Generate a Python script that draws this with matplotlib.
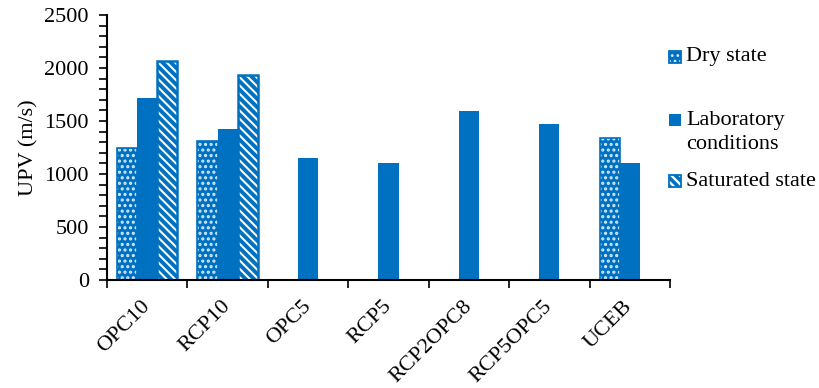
import matplotlib
matplotlib.use('Agg')
import matplotlib.pyplot as plt
from matplotlib.patches import Rectangle
from matplotlib.ticker import MultipleLocator, FixedLocator
import numpy as np

categories = ['OPC10', 'RCP10', 'OPC5', 'RCP5', 'RCP2OPC8', 'RCP5OPC5', 'UCEB']
dry_state = [1250, 1310, np.nan, np.nan, np.nan, np.nan, 1340]
lab_conditions = [1720, 1420, 1150, 1100, 1590, 1475, 1105]
saturated_state = [2070, 1935, np.nan, np.nan, np.nan, np.nan, np.nan]
series_labels = ['Dry state', 'Laboratory\nconditions', 'Saturated state']

BLUE = '#0070C0'
LIGHT = '#d4eafa'
W = 0.25

plt.rcParams['font.family'] = ['Liberation Serif', 'DejaVu Serif']
plt.rcParams['font.size'] = 16


def set_hatch_lw(patches, lw):
    for p in patches:
        if hasattr(p, 'set_hatch_linewidth'):
            p.set_hatch_linewidth(lw)


fig = plt.figure(figsize=(8.19, 3.88), dpi=100)
ax = fig.add_axes([107 / 819, 1 - 280 / 388, 563 / 819, 265 / 388])

x = np.arange(len(categories))

# dry state: blue fill, pale dots
dry = ax.bar(x - W, dry_state, W, color=BLUE, edgecolor=LIGHT, hatch='...', linewidth=0)
set_hatch_lw(dry, 1.5)
ax.bar(x - W, dry_state, W, fill=False, edgecolor=BLUE, linewidth=1.2)

ax.bar(x, lab_conditions, W, color=BLUE, linewidth=0)

# saturated state: white fill, blue diagonal stripes
sat = ax.bar(x + W, saturated_state, W, facecolor='white', edgecolor=BLUE, hatch='\\\\\\\\', linewidth=0)
set_hatch_lw(sat, 2.8)
ax.bar(x + W, saturated_state, W, fill=False, edgecolor=BLUE, linewidth=1.8)

ax.set_xlim(-0.5, len(categories) - 0.5)
ax.set_ylim(0, 2500)
ax.yaxis.set_major_locator(MultipleLocator(500))
ax.yaxis.set_minor_locator(MultipleLocator(100))
ax.tick_params(axis='y', which='both', direction='out', length=6, width=1.2, colors='black', pad=7)

ax.set_xticks(x)
ax.set_xticklabels(categories, rotation=45, ha='right', va='center', rotation_mode='anchor')
ax.xaxis.set_minor_locator(FixedLocator(np.arange(len(categories) + 1) - 0.5))
ax.tick_params(axis='x', which='major', length=0, pad=17)
ax.tick_params(axis='x', which='minor', direction='out', length=6, width=1.2)

ax.set_ylabel('UPV (m/s)', labelpad=4)

for side in ['top', 'right']:
    ax.spines[side].set_visible(False)
for side in ['left', 'bottom']:
    ax.spines[side].set_linewidth(1.5)


# legend drawn by hand so the markers sit beside the first text line
def fig_xy(px, py):
    return px / 819, 1 - py / 388


legend_rows = [57, 120, 181]
styles = [
    dict(facecolor=BLUE, edgecolor=LIGHT, hatch='...', linewidth=0),
    dict(facecolor=BLUE, edgecolor=BLUE, linewidth=0),
    dict(facecolor='white', edgecolor=BLUE, hatch='\\\\\\\\', linewidth=0),
]
for i, (row, style, label) in enumerate(zip(legend_rows, styles, series_labels)):
    x0, y0 = fig_xy(669, row + 6)
    box = Rectangle((x0, y0), 12 / 819, 12 / 388, transform=fig.transFigure, **style)
    if i == 0:
        set_hatch_lw([box], 1.2)
    if i == 2:
        set_hatch_lw([box], 2.6)
    fig.patches.append(box)
    if i != 1:
        edge = Rectangle((x0, y0), 12 / 819, 12 / 388, transform=fig.transFigure,
                         fill=False, edgecolor=BLUE, linewidth=1.3)
        fig.patches.append(edge)
    if '\n' in label:
        tx, ty = fig_xy(686, row + 12.5)
        fig.text(tx, ty, label, ha='left', va='center', linespacing=1.3)
    else:
        tx, ty = fig_xy(686, row)
        fig.text(tx, ty, label, ha='left', va='center')

fig.savefig('out.png', dpi=100)
